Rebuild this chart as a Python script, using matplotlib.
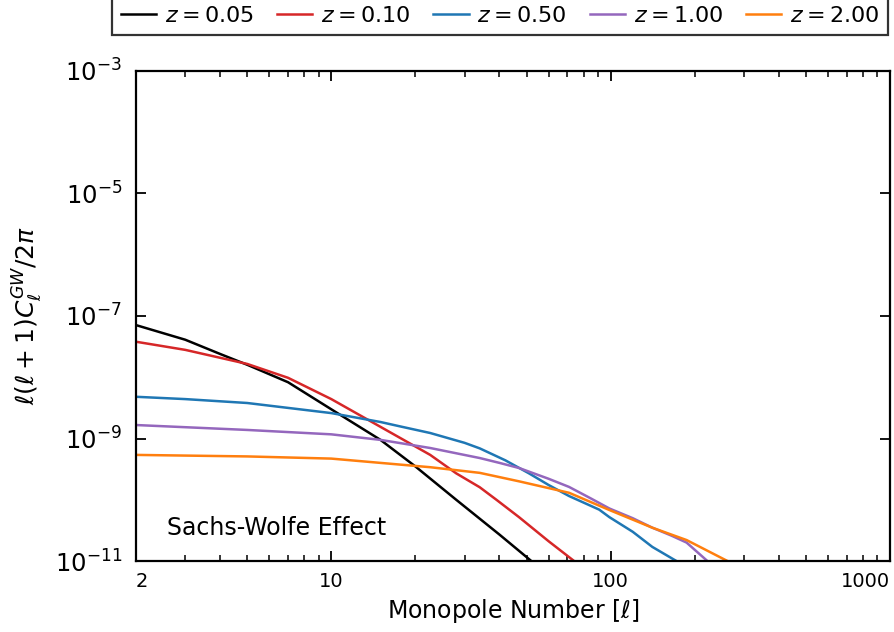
import matplotlib
matplotlib.use('Agg')
import matplotlib.pyplot as plt
from matplotlib.ticker import NullLocator

# Sachs-Wolfe contribution to the GW angular power spectrum
ell_z005 = [2, 3, 4, 5, 7, 10, 15, 20, 28, 40, 52, 60]
cl_z005 = [7.1e-8, 4.1e-8, 2.4e-8, 1.6e-8, 8.3e-9, 3.0e-9, 9.5e-10, 3.5e-10,
           1.0e-10, 2.7e-11, 1.0e-11, 5.6e-12]

ell_z010 = [2, 3, 5, 7, 10, 15, 20, 22.6, 28, 34, 39, 47, 60, 74, 85]
cl_z010 = [3.8e-8, 2.8e-8, 1.65e-8, 9.8e-9, 4.4e-9, 1.55e-9, 7.4e-10, 5.4e-10,
           2.7e-10, 1.6e-10, 1.0e-10, 5.2e-11, 2.1e-11, 1.0e-11, 5.6e-12]

ell_z050 = [2, 3, 5, 10, 15, 17.6, 22.6, 30, 34, 42, 51, 60, 71, 91, 99,
            120, 141, 172, 200]
cl_z050 = [4.8e-9, 4.4e-9, 3.8e-9, 2.6e-9, 1.86e-9, 1.58e-9, 1.23e-9, 8.5e-10,
           6.9e-10, 4.4e-10, 2.7e-10, 1.74e-10, 1.15e-10, 6.9e-11, 5.2e-11,
           3.0e-11, 1.7e-11, 1.0e-11, 6.5e-12]

ell_z100 = [2, 5, 10, 15, 22.6, 34, 40, 47, 60, 71, 85, 99, 120, 141, 165,
            187, 222, 260]
cl_z100 = [1.66e-9, 1.38e-9, 1.17e-9, 9.5e-10, 7.0e-10, 4.8e-10, 4.0e-10,
           3.3e-10, 2.2e-10, 1.62e-10, 1.05e-10, 7.2e-11, 5.0e-11, 3.5e-11,
           2.6e-11, 2.0e-11, 1.0e-11, 5.0e-12]

ell_z200 = [2, 5, 10, 15, 22.6, 34, 47, 71, 99, 141, 187, 262, 300]
cl_z200 = [5.4e-10, 5.1e-10, 4.7e-10, 4.0e-10, 3.4e-10, 2.75e-10, 2.0e-10, 1.3e-10,
           6.8e-11, 3.5e-11, 2.2e-11, 1.0e-11, 7.0e-12]

series = [
    (ell_z005, cl_z005, 'black', r'$z = 0.05$'),
    (ell_z010, cl_z010, 'tab:red', r'$z = 0.10$'),
    (ell_z050, cl_z050, 'tab:blue', r'$z = 0.50$'),
    (ell_z100, cl_z100, 'tab:purple', r'$z = 1.00$'),
    (ell_z200, cl_z200, 'tab:orange', r'$z = 2.00$'),
]

fig, ax = plt.subplots(figsize=(8.95, 6.32), dpi=100)
fig.subplots_adjust(left=0.152, right=0.9944, bottom=0.1123, top=0.8877)

for ell, cl, color, label in series:
    ax.plot(ell, cl, color=color, lw=1.8, label=label)

ax.set_xscale('log')
ax.set_yscale('log')
ax.set_xlim(2, 1000)
ax.set_ylim(1e-11, 1e-3)

ax.set_xticks([2, 10, 100, 1000], labels=['2', '10', '100', '1000'])
xlabels = ax.get_xticklabels()
xlabels[0].set_ha('left')
xlabels[-1].set_ha('right')
ax.set_yticks([1e-11, 1e-9, 1e-7, 1e-5, 1e-3])
ax.yaxis.set_minor_locator(NullLocator())

ax.tick_params(which='both', direction='in', top=True, right=True)
ax.tick_params(which='major', length=7, width=1.3)
ax.tick_params(which='minor', length=4, width=1.1)
ax.tick_params(axis='x', labelsize=14, pad=8)
ax.tick_params(axis='y', labelsize=17.5, pad=10)
for sp in ax.spines.values():
    sp.set_linewidth(1.6)

ax.set_xlabel(r'Monopole Number [$\ell$]', fontsize=17, labelpad=4)
ax.set_ylabel(r'$\ell(\ell+1)C_\ell^{GW}/2\pi$', fontsize=18, labelpad=8)

ax.text(0.041, 0.067, 'Sachs-Wolfe Effect', transform=ax.transAxes,
        fontsize=17, ha='left', va='center')

leg = fig.legend(loc='lower center', bbox_to_anchor=(0.559, 0.9446), ncol=5,
                 fontsize=16, frameon=True, fancybox=False, framealpha=0.8,
                 edgecolor='black', borderaxespad=0, handlelength=1.58,
                 handletextpad=0.4, columnspacing=1.04)
leg.get_frame().set_linewidth(1.6)

fig.savefig('out.png', dpi=100)
